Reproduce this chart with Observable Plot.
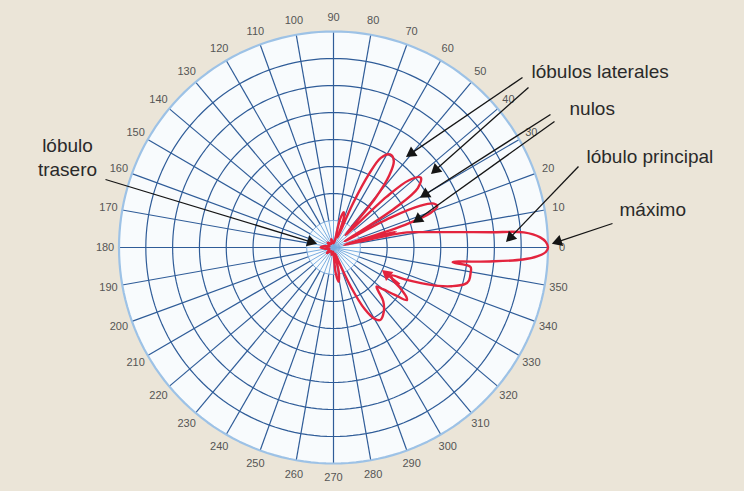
<!DOCTYPE html>
<html>
<head>
<meta charset="utf-8">
<script src="https://cdn.jsdelivr.net/npm/d3@7"></script>
<script src="https://cdn.jsdelivr.net/npm/@observablehq/plot@0.6"></script>
<style>
html,body{margin:0;padding:0;background:#ebe5d8;}
#chart{width:744px;height:491px;overflow:hidden;}
</style>
</head>
<body>
<div id="chart"></div>
<script>
// ---- data ----
const angleTicks = [0,10,20,30,40,50,60,70,80,90,100,110,120,130,140,150,160,170,180,190,200,210,220,230,240,250,260,270,280,290,300,310,320,330,340,350];
const ringLevels = [0.125,0.25,0.375,0.5,0.625,0.75,0.875,1];

// radiation pattern outline: angle (deg, counter-clockwise from 0) and normalised radius
const patternAngles = [
  0, 1.5, 2.8, 4.5, 5.5, 7.3, 9.5, 11.5, 12.5, 13.3, 14, 15,
  16, 17.5, 19.5, 21.5, 23.5, 25.5, 27.5, 29.5,
  30.5, 32.5, 35, 38.5, 41.5, 43.5, 45.5,
  47, 49.5, 52, 55, 58.5, 62, 64, 66, 67.5,
  69, 71, 74, 77, 80,
  90, 105, 120, 140, 160, 172, 180, 188, 200, 220, 240, 255, 265,
  272, 275, 278.5, 282, 285,
  291, 294, 297, 300, 303, 308, 313, 316,
  318, 320, 322.5, 324.5, 326, 329, 332, 334.5,
  336, 338, 340, 342, 344.5, 346.5, 349.5, 352, 353,
  354.9, 356.4, 357.5, 358.8
];
const patternRadii = [
  1.00, 0.99, 0.965, 0.89, 0.74, 0.56, 0.43, 0.35, 0.22, 0.05, 0.30, 0.06,
  0.14, 0.35, 0.48, 0.52, 0.51, 0.45, 0.30, 0.06,
  0.12, 0.34, 0.48, 0.52, 0.47, 0.34, 0.08,
  0.10, 0.30, 0.42, 0.49, 0.505, 0.47, 0.38, 0.22, 0.05,
  0.08, 0.15, 0.17, 0.13, 0.03,
  0.02, 0.04, 0.02, 0.035, 0.02, 0.045, 0.06, 0.04, 0.02, 0.04, 0.02, 0.035, 0.02,
  0.04, 0.12, 0.16, 0.12, 0.03,
  0.08, 0.20, 0.32, 0.38, 0.40, 0.38, 0.34, 0.29,
  0.27, 0.30, 0.36, 0.42, 0.41, 0.36, 0.31, 0.30,
  0.36, 0.44, 0.52, 0.58, 0.635, 0.65, 0.65, 0.645, 0.56,
  0.73, 0.885, 0.95, 0.99
];

// annotations (pixel positions on the 744x491 picture)
const noteTexts = ["lóbulos laterales", "nulos", "lóbulo principal", "máximo"];
const notePos = [[531,71],[569,108],[586,156],[619,209]];
const backNote = "lóbulo\ntrasero";
const backPos = [67,156];
const pointerFrom = [[522,77],[528,87],[550,114],[554,121],[578,166],[612,223],[105,179]];
const pointerTo   = [[406,156],[431,173],[420,197],[413,222],[506,241],[552,243],[316,243]];
const redPointerFrom = [[399,284]];
const redPointerTo = [[382,270]];

// ---- layout ----
const W = 744, H = 491, CX = 333, CY = 247, RX = 214.5, RY = 216;
const toX = px => (px - CX) / RX;
const toY = py => (CY - py) / RY;
const rad = d => d * Math.PI / 180;

const circlePts = lvl => d3.range(0, 361, 2).map(a => ({x: lvl * Math.cos(rad(a)), y: lvl * Math.sin(rad(a)), lvl}));
const disk = circlePts(1);
const innerRing = circlePts(ringLevels[0]);
const midRings = ringLevels.slice(1, -1).flatMap(l => circlePts(l));

const pattern = patternAngles.map((a, i) => ({x: patternRadii[i] * Math.cos(rad(a)), y: patternRadii[i] * Math.sin(rad(a))}));

const makePointers = (from, to) => from.map((f, i) => {
  const t = to[i];
  const dx = t[0] - f[0], dy = t[1] - f[1];
  const len = Math.hypot(dx, dy);
  const ux = dx / len, uy = dy / len;
  const hx = t[0] - ux * 6, hy = t[1] - uy * 6;
  return {x1: toX(f[0]), y1: toY(f[1]), x2: toX(hx), y2: toY(hy), rot: Math.atan2(dx, -dy) * 180 / Math.PI};
});
const pointers = makePointers(pointerFrom, pointerTo);
const redPointers = makePointers(redPointerFrom, redPointerTo);
const notes = noteTexts.map((t, i) => ({text: t, x: toX(notePos[i][0]), y: toY(notePos[i][1])}));
const back = [{text: backNote, x: toX(backPos[0]), y: toY(backPos[1])}];

const gridBlue = "#2f5c98";
const red = "#e3243e";
const chart = Plot.plot({
  width: W, height: H,
  margin: 0,
  x: {domain: [toX(0), toX(W)], axis: null},
  y: {domain: [toY(H), toY(0)], axis: null},
  style: {background: "transparent", fontFamily: "'Liberation Sans', Arial, sans-serif"},
  marks: [
    Plot.line(disk, {x: "x", y: "y", fill: "#f8fbfd", stroke: "none"}),
    Plot.link(angleTicks, {x1: a => ringLevels[0] * Math.cos(rad(a)), y1: a => ringLevels[0] * Math.sin(rad(a)), x2: a => Math.cos(rad(a)), y2: a => Math.sin(rad(a)), stroke: gridBlue, strokeWidth: 1.2}),
    Plot.link(angleTicks, {x1: a => 0, y1: a => 0, x2: a => ringLevels[0] * Math.cos(rad(a)), y2: a => ringLevels[0] * Math.sin(rad(a)), stroke: "#79ade0", strokeWidth: 1}),
    Plot.line(midRings, {x: "x", y: "y", z: "lvl", stroke: gridBlue, strokeWidth: 1.2}),
    Plot.line(innerRing, {x: "x", y: "y", stroke: "#6e9fd6", strokeWidth: 1}),
    Plot.line(disk, {x: "x", y: "y", stroke: "#9dc2e6", strokeWidth: 2.2}),
    Plot.text(angleTicks, {x: a => 1.065 * Math.cos(rad(a)), y: a => 1.065 * Math.sin(rad(a)), text: a => String(a), fontSize: 11, fill: "#555"}),
    Plot.line(pattern, {x: "x", y: "y", curve: "catmull-rom-closed", stroke: red, strokeWidth: 2.4, strokeLinejoin: "round"}),
    Plot.link(redPointers, {x1: "x1", y1: "y1", x2: "x2", y2: "y2", stroke: red, strokeWidth: 2.4}),
    Plot.dot(redPointers, {x: "x2", y: "y2", rotate: "rot", symbol: "triangle", r: 4.3, fill: red, stroke: "none"}),
    Plot.link(pointers, {x1: "x1", y1: "y1", x2: "x2", y2: "y2", stroke: "#151515", strokeWidth: 1.3}),
    Plot.dot(pointers, {x: "x2", y: "y2", rotate: "rot", symbol: "triangle", r: 4.3, fill: "#151515", stroke: "none"}),
    Plot.text(notes, {x: "x", y: "y", text: "text", textAnchor: "start", fontSize: 19, fill: "#2a2a2a"}),
    Plot.text(back, {x: "x", y: "y", text: "text", textAnchor: "middle", fontSize: 19, lineHeight: 1.22, fill: "#2a2a2a"})
  ]
});
document.getElementById("chart").appendChild(chart);
</script>
</body>
</html>
